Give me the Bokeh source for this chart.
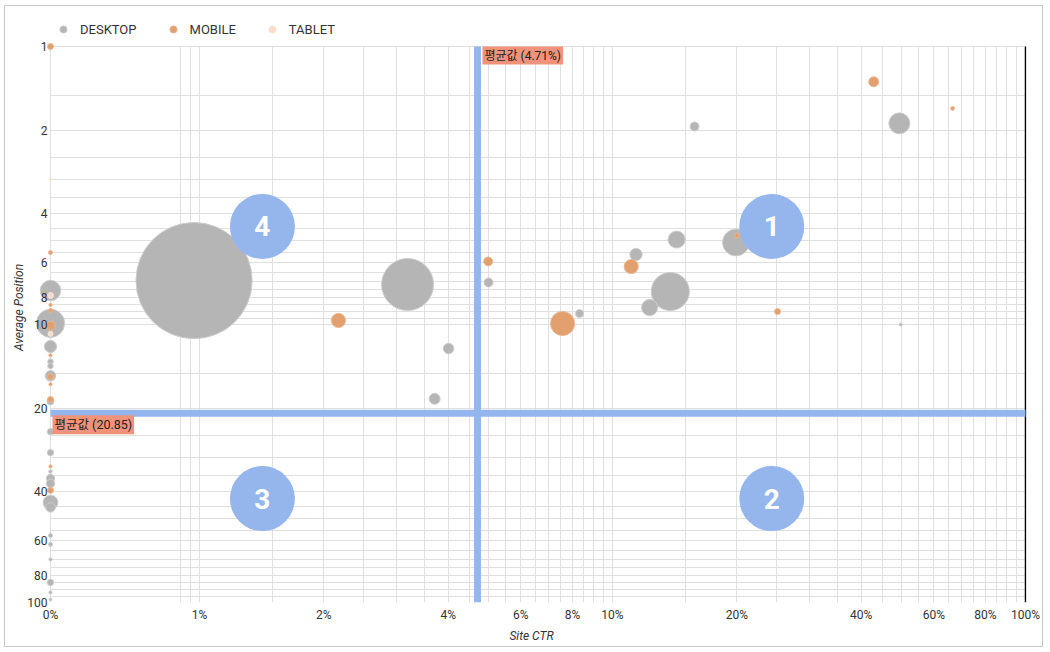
import numpy as np
from bokeh.plotting import figure
from bokeh.models import (Range1d, FixedTicker, CustomJSTickFormatter, Label,
                          Legend, LegendItem, ColumnDataSource)
from bokeh.core.properties import value
from bokeh.embed import file_html
from bokeh.resources import INLINE

# ---------------- data (Site CTR in %, Average Position, Impressions) ----------------
desktop_ctr = [0.97, 3.19, 4.01, 3.71, 5.01, 8.32, 11.4, 12.3, 13.8, 14.3, 19.9, 15.8, 49.5, 49.9,
               0, 0, 0, 0, 0, 0, 0, 0, 0, 0, 0, 0, 0, 0, 0, 0, 0, 0, 0, 0]
desktop_pos = [6.95, 7.18, 12.2, 18.5, 7.06, 9.13, 5.60, 8.69, 7.61, 4.95, 5.07, 1.94, 1.89, 10.0,
               7.55, 9.9, 12.0, 13.6, 14.1, 15.3, 18.9, 24.3, 28.9, 33.8, 35.8, 37.3, 43.7, 45.5,
               57.4, 61.8, 70.0, 84.7, 92.0, 97.6]
desktop_impr = [13500, 2700, 110, 120, 80, 64, 150, 260, 1450, 290, 720, 80, 440, 9,
                420, 800, 150, 30, 30, 110, 50, 40, 40, 12, 70, 70, 220, 90,
                16, 16, 10, 40, 10, 8]

mobile_ctr = [0, 2.17, 5.0, 7.57, 11.1, 20.0, 25.1, 42.9, 66.6,
              0, 0, 0, 0, 0, 0, 0, 0, 0, 0]
mobile_pos = [1.0, 9.67, 5.93, 9.92, 6.19, 4.78, 8.98, 1.34, 1.67,
              5.51, 8.5, 8.9, 10.1, 12.9, 15.4, 16.4, 18.6, 32.4, 39.5]
mobile_impr = [36, 200, 80, 580, 200, 25, 36, 100, 14,
               16, 10, 16, 80, 10, 36, 10, 36, 10, 36]

tablet_ctr = [0, 0, 0]
tablet_pos = [3.0, 7.86, 10.8]
tablet_impr = [5, 36, 25]

mean_ctr = 4.71
mean_pos = 20.85

quadrant_labels = ["1", "2", "3", "4"]
quadrant_ctr = [24.3, 24.3, 1.42, 1.42]
quadrant_pos = [4.44, 42.3, 42.3, 4.44]

x_tick_values = [0, 1, 2, 4, 6, 8, 10, 20, 40, 60, 80, 100]
y_tick_values = [1, 2, 4, 6, 8, 10, 20, 40, 60, 80, 100]

# ---------------- scales ----------------
X_START = 0.4357          # where "0%" sits on the log axis
X_END = 100
Y_TOP, Y_BOTTOM = 1, 100
PX_PER_DEC_X = 413.0
PX_PER_DEC_Y = 278.0
LEFT_PAD_PX, RIGHT_PAD_PX, TOP_PAD_PX = 14, 1, 34   # room around the data area
SIZE_SCALE = 1.0          # px of diameter per sqrt(impression)

x_lo = X_START / 10 ** (LEFT_PAD_PX / PX_PER_DEC_X)
x_hi = X_END * 10 ** (RIGHT_PAD_PX / PX_PER_DEC_X)
y_hi = Y_TOP / 10 ** (TOP_PAD_PX / PX_PER_DEC_Y)

def to_x(v):
    v = np.asarray(v, dtype=float)
    return np.where(v > 0, v, X_START)

def make_src(ctr, pos, impr):
    impr = np.asarray(impr, dtype=float)
    order = np.argsort(-impr)
    x = to_x(ctr)[order]
    y = np.asarray(pos, dtype=float)[order]
    s = np.sqrt(impr[order]) * SIZE_SCALE
    return ColumnDataSource(dict(x=x, y=y, size=s))

FONT = "Roboto"
TXT = "#333333"

W, H = 1039, 642
ML, MR, MT, MB = 31, 18, 6, 46

p = figure(width=W, height=H, x_axis_type="log", y_axis_type="log",
           x_range=Range1d(x_lo, x_hi), y_range=Range1d(Y_BOTTOM, y_hi),
           output_backend="svg", toolbar_location=None,
           min_border_left=ML, min_border_right=MR, min_border_top=MT, min_border_bottom=MB)
p.styles = {"border": "1px solid #c8c8c8", "margin-left": "4px", "margin-top": "5px"}
p.outline_line_color = None
p.background_fill_color = "white"
p.border_fill_color = "white"

# grid
x_grid = [X_START, 0.9, 0.95] + list(np.arange(1, 10.01, 0.5)) + list(range(15, 101, 5))
y_grid = list(np.arange(1, 10.01, 0.5)) + list(range(15, 101, 5))
p.xgrid.ticker = FixedTicker(ticks=x_grid)
p.ygrid.ticker = FixedTicker(ticks=y_grid)
p.xgrid.cross_bounds = (Y_TOP, Y_BOTTOM)
p.ygrid.cross_bounds = (X_START, X_END)
for g in (p.xgrid, p.ygrid):
    g.grid_line_color = "#e0e0e0"
    g.grid_line_width = 1

# axes
p.xaxis.ticker = FixedTicker(ticks=[X_START if t == 0 else t for t in x_tick_values])
p.xaxis.formatter = CustomJSTickFormatter(code="return tick < 0.9 ? '0%' : Math.round(tick) + '%';")
p.yaxis.ticker = FixedTicker(ticks=y_tick_values)
p.yaxis.formatter = CustomJSTickFormatter(code="return String(Math.round(tick));")
p.xaxis.bounds = (X_START, X_END)
p.yaxis.bounds = (Y_TOP, Y_BOTTOM)
for ax in (p.xaxis, p.yaxis):
    ax.axis_line_color = None
    ax.major_tick_line_color = None
    ax.minor_tick_line_color = None
    ax.major_tick_out = 0
    ax.minor_tick_out = 0
    ax.major_label_text_font = FONT
    ax.major_label_text_font_size = "12px"
    ax.major_label_text_color = TXT
    ax.axis_label_text_font = FONT
    ax.axis_label_text_font_size = "12px"
    ax.axis_label_text_font_style = "italic"
    ax.axis_label_text_color = TXT
p.xaxis.axis_label = "Site CTR"
p.yaxis.axis_label = "Average Position"
p.xaxis.major_label_standoff = 5
p.xaxis.axis_label_standoff = 4
p.yaxis.major_label_standoff = -11
p.yaxis.axis_label_standoff = -2

# bubbles
src_d = make_src(desktop_ctr, desktop_pos, desktop_impr)
src_m = make_src(mobile_ctr, mobile_pos, mobile_impr)
src_t = make_src(tablet_ctr, tablet_pos, tablet_impr)

r_d = p.scatter("x", "y", size="size", source=src_d, marker="circle",
                fill_color="#b5b5b5", line_color="#cdcdcd", line_width=1)
r_m = p.scatter("x", "y", size="size", source=src_m, marker="circle",
                fill_color="#e2a06f", line_color="#eab792", line_width=1)
r_t = p.scatter("x", "y", size="size", source=src_t, marker="circle",
                fill_color="#f7dccb", line_color="#f9e6da", line_width=1)

# right frame edge and average lines
p.segment(x0=[X_END], y0=[Y_TOP], x1=[X_END], y1=[Y_BOTTOM], line_color="black", line_width=1.5)
p.segment(x0=[mean_ctr], y0=[Y_TOP], x1=[mean_ctr], y1=[Y_BOTTOM], line_color="#94b6ec", line_width=7)
p.segment(x0=[X_START], y0=[mean_pos], x1=[X_END], y1=[mean_pos], line_color="#94b6ec", line_width=7)

p.add_layout(Label(x=mean_ctr, y=Y_TOP, text=f"평균값 ({mean_ctr:.2f}%)",
                   text_align="left", text_baseline="top", x_offset=5, y_offset=0,
                   background_fill_color="#f0937a", padding=2,
                   text_font="Roboto, 'Noto Sans CJK KR'", text_font_size="12px", text_color="#222222"))
p.add_layout(Label(x=X_START, y=mean_pos, text=f"평균값 ({mean_pos:.2f})",
                   text_align="left", text_baseline="top", x_offset=2, y_offset=-2,
                   background_fill_color="#f0937a", padding=2,
                   text_font="Roboto, 'Noto Sans CJK KR'", text_font_size="12.5px", text_color="#222222"))

# quadrant markers
p.scatter(quadrant_ctr, quadrant_pos, size=65, marker="circle", fill_color="#94b6ec", line_color=None)
p.text(quadrant_ctr, quadrant_pos, text=quadrant_labels, text_font=value("Roboto"),
       text_font_style="bold", text_font_size="28px", text_color="white",
       text_align="center", text_baseline="middle")

# legend at the top-left of the (extended) frame
frame_h = H - MT - MB
legend = Legend(items=[LegendItem(label="DESKTOP", renderers=[r_d]),
                       LegendItem(label="MOBILE", renderers=[r_m]),
                       LegendItem(label="TABLET", renderers=[r_t])],
                orientation="horizontal", location=(LEFT_PAD_PX + 4, frame_h - TOP_PAD_PX + 5),
                margin=0, padding=5, spacing=27, label_standoff=8,
                glyph_width=18, glyph_height=24,
                label_text_font=FONT, label_text_font_size="13px", label_text_color=TXT,
                background_fill_alpha=0, border_line_color=None)
p.add_layout(legend)

open("out.html", "w").write(file_html(p, INLINE))
